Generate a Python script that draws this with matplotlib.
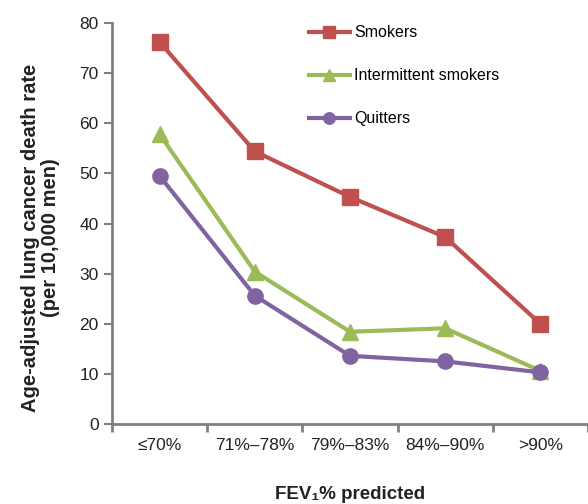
import matplotlib
matplotlib.use("Agg")
import matplotlib.pyplot as plt

categories = ["\u226470%", "71%\u201378%", "79%\u201383%", "84%\u201390%", ">90%"]
smokers = [76.2, 54.4, 45.3, 37.3, 20.0]
intermittent = [57.8, 30.4, 18.4, 19.1, 10.6]
quitters = [49.5, 25.6, 13.6, 12.5, 10.3]

plt.rcParams['font.family'] = ['Liberation Sans', 'DejaVu Sans']

fig = plt.figure(figsize=(5.88, 5.04), dpi=100)
ax = fig.add_axes([0.1905, 0.1587, 0.8095, 0.7956])

x = list(range(len(categories)))
ax.plot(x, smokers, color='#c0504d', lw=3, marker='s', ms=11, label='Smokers')
ax.plot(x, intermittent, color='#9bbb59', lw=3, marker='^', ms=11, label='Intermittent smokers')
ax.plot(x, quitters, color='#8064a2', lw=3, marker='o', ms=11, label='Quitters')

ax.set_xlim(-0.5, 4.5)
ax.set_ylim(0, 80)
ax.set_yticks(range(0, 81, 10))
ax.set_xticks([i - 0.5 for i in range(6)])
ax.set_xticklabels([])
ax.set_xticks(x, minor=True)
ax.set_xticklabels(categories, minor=True, fontsize=12.5, color='#222222')
ax.tick_params(axis='x', which='minor', length=0, pad=10)
ax.tick_params(axis='x', which='major', length=6, width=2, color='#808080')
ax.tick_params(axis='y', length=6, width=1.5, color='#808080', labelsize=12.5, labelcolor='#222222')

for s in ['top', 'right']:
    ax.spines[s].set_visible(False)
for s in ['left', 'bottom']:
    ax.spines[s].set_color('#808080')
    ax.spines[s].set_linewidth(2)

ax.set_ylabel("Age-adjusted lung cancer death rate\n(per 10,000 men)", fontsize=14.5,
              fontweight='bold', color='#222222', linespacing=1.05)
ax.yaxis.set_label_coords(-0.11, 0.465)
ax.set_xlabel("FEV\u2081% predicted", fontsize=13.5, fontweight='bold', labelpad=24, color='#222222')

leg = ax.legend(loc='upper left', bbox_to_anchor=(0.383, 1.03), frameon=False, fontsize=11.5,
                handlelength=2.6, labelspacing=1.75, handletextpad=0.25, markerscale=0.75)

fig.savefig("out.png", dpi=100)
